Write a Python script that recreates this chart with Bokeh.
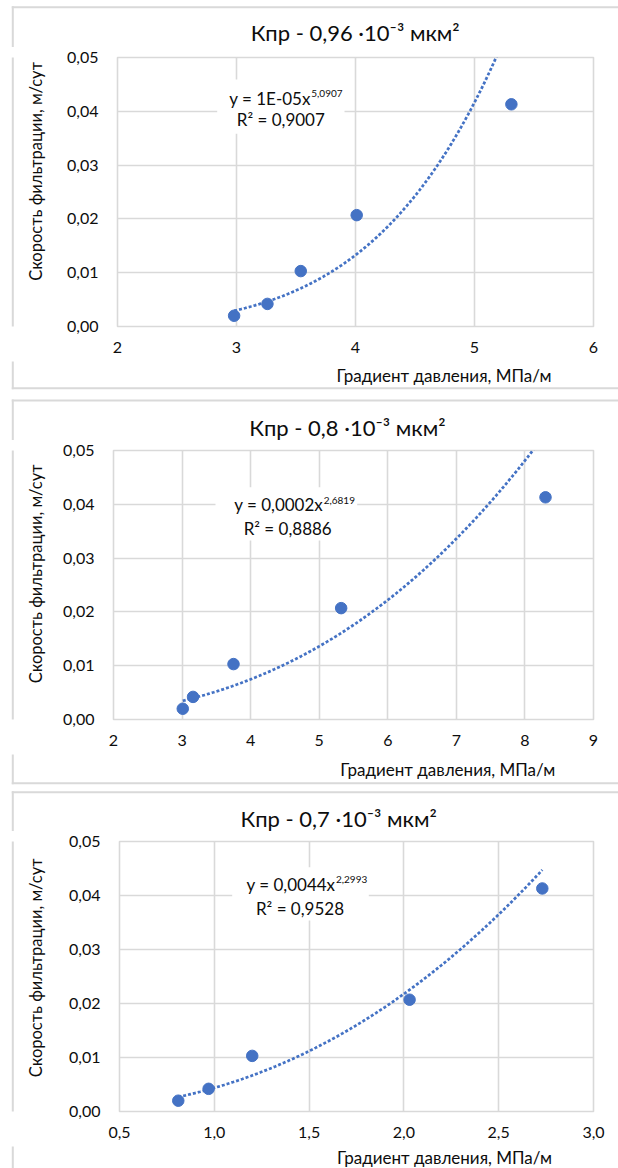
import numpy as np
from bokeh.plotting import figure
from bokeh.layouts import column, row
from bokeh.models import Range1d, FixedTicker, CustomJSTickFormatter, Label, BoxAnnotation
from bokeh.embed import file_html
from bokeh.resources import INLINE

# ---------------- data ----------------
velocity = [0.0020, 0.0042, 0.0103, 0.0207, 0.0413]          # м/сут
grad_096 = [2.98, 3.26, 3.54, 4.01, 5.31]                    # МПа/м
grad_080 = [3.01, 3.16, 3.75, 5.32, 8.30]
grad_070 = [0.81, 0.97, 1.20, 2.03, 2.73]

titles = ["Кпр - 0,96 ·10⁻³ мкм²", "Кпр - 0,8 ·10⁻³ мкм²", "Кпр - 0,7 ·10⁻³ мкм²"]
eq_main = ["y = 1E-05x", "y = 0,0002x", "y = 0,0044x"]
eq_power = ["5,0907", "2,6819", "2,2993"]
eq_r2 = ["R² = 0,9007", "R² = 0,8886", "R² = 0,9528"]
y_titles = ["Скорость фильтрации, м/сут", "Скорость фильтрации, м/сут",
            "Скорость фильтрации,  м/сут"]
x_title = "Градиент давления, МПа/м"

y_ticks = [0.0, 0.01, 0.02, 0.03, 0.04, 0.05]
x_ticks_096 = [2, 3, 4, 5, 6]
x_ticks_080 = [2, 3, 4, 5, 6, 7, 8, 9]
x_ticks_070 = [0.5, 1.0, 1.5, 2.0, 2.5, 3.0]

# ---------------- style / layout (page pixels, text anchored at its vertical middle) ----------------
FONT = "Lato"
BLUE = "#4472C4"
GRID = "#d9d9d9"
TEXT = "#0d0d0d"
W = 618
LEFT_W = 58          # strip holding the vertical axis title
CHART_W = W - LEFT_W

panels = [
    dict(x=grad_096, ticks=x_ticks_096, digits=0, top=0, top_h=47, bot_h=33, mbl=59, fw=476, fh=269,
         title=(354.7, 32.2), ytitle=(35.5, 180.0), xtitle=(443.5, 375.0),
         box=(216.7, 344.0, 79.0, 133.3), join=(310.3, 97.5), sup_y=93.0, r2=(280.3, 119.3),
         border=(6.7, 387.7)),
    dict(x=grad_080, ticks=x_ticks_080, digits=0, top=394, top_h=46, bot_h=33, mbl=55, fw=480, fh=269,
         title=(346.9, 426.7), ytitle=(35.5, 584.0), xtitle=(447.3, 768.8),
         box=(215.0, 356.7, 486.7, 540.0), join=(322.7, 504.2), sup_y=499.7, r2=(287.2, 527.5),
         border=(400.0, 782.7)),
    dict(x=grad_070, ticks=x_ticks_070, digits=1, top=787, top_h=44, bot_h=22, mbl=61, fw=474, fh=270,
         title=(338.2, 818.4), ytitle=(35.5, 976.0), xtitle=(444.0, 1157.0),
         box=(231.7, 368.3, 866.7, 920.0), join=(335.0, 883.8), sup_y=879.3, r2=(299.5, 907.8),
         border=(791.7, None)),
]
CH_TOP, CH_BOT = 10, 35


def strip(x0, y0, w, h):
    """Plain figure whose data coordinates are page pixels (y downwards)."""
    s = figure(width=w, height=h, x_range=Range1d(x0, x0 + w), y_range=Range1d(y0 + h, y0),
               output_backend="svg", toolbar_location=None, x_axis_type=None, y_axis_type=None,
               min_border=0, min_border_left=0, min_border_right=0,
               min_border_top=0, min_border_bottom=0,
               background_fill_color="white", border_fill_color="white")
    s.outline_line_color = None
    return s


def add_border(s, cfg):
    t, b = cfg["border"]
    bb = b if b is not None else 1300
    s.add_layout(BoxAnnotation(left=11.3, right=13.3, top=t - 1, bottom=bb + 1,
                               fill_color=GRID, fill_alpha=1, line_color=None))
    s.add_layout(BoxAnnotation(left=11.3, right=W + 10, top=t - 1, bottom=t + 1,
                               fill_color=GRID, fill_alpha=1, line_color=None))
    if b is not None:
        s.add_layout(BoxAnnotation(left=11.3, right=W + 10, top=b - 1, bottom=b + 1,
                                   fill_color=GRID, fill_alpha=1, line_color=None))


def text(s, x, y, txt, size, align="center", angle=0.0, **kw):
    s.add_layout(Label(x=x, y=y, text=txt, text_align=align, text_baseline="middle",
                       angle=angle, text_font=FONT, text_font_size=size, text_color=TEXT, **kw))


def make_panel(i, cfg):
    top = cfg["top"]
    ch_y0 = top + cfg["top_h"]
    ch_h = CH_TOP + cfg["fh"] + CH_BOT
    bot_y0 = ch_y0 + ch_h

    # --- title strip
    ts = strip(0, top, W, cfg["top_h"])
    add_border(ts, cfg)
    text(ts, *cfg["title"], titles[i], "22px")

    # --- left strip with vertical axis title
    ls = strip(0, ch_y0, LEFT_W, ch_h)
    add_border(ls, cfg)
    text(ls, *cfg["ytitle"], y_titles[i], "16.5px", angle=np.pi / 2)

    # --- the chart itself
    fl = LEFT_W + cfg["mbl"]
    fb = ch_y0 + CH_TOP + cfg["fh"]

    def sx(px):
        return px - fl

    def sy(py):
        return fb - py

    xt = cfg["ticks"]
    p = figure(width=CHART_W, height=ch_h, output_backend="svg", toolbar_location=None,
               x_range=Range1d(xt[0], xt[-1]), y_range=Range1d(y_ticks[0], y_ticks[-1]),
               min_border_left=cfg["mbl"], min_border_top=CH_TOP,
               min_border_right=CHART_W - cfg["mbl"] - cfg["fw"], min_border_bottom=CH_BOT,
               background_fill_color="white", border_fill_color="white")
    p.outline_line_color = GRID
    p.outline_line_width = 1.6
    for ax in (p.xaxis[0], p.yaxis[0]):
        ax.axis_line_color = None
        ax.major_tick_line_color = None
        ax.minor_tick_line_color = None
        ax.major_tick_out = 0
        ax.major_tick_in = 0
        ax.major_label_text_font = FONT
        ax.major_label_text_font_size = "16px"
        ax.major_label_text_color = TEXT
    p.xaxis.ticker = FixedTicker(ticks=xt)
    p.yaxis.ticker = FixedTicker(ticks=y_ticks)
    p.xaxis.formatter = CustomJSTickFormatter(
        code="return tick.toFixed(%d).replace('.', ',');" % cfg["digits"])
    p.yaxis.formatter = CustomJSTickFormatter(code="return tick.toFixed(2).replace('.', ',');")
    p.xaxis.major_label_standoff = 15
    p.yaxis.major_label_standoff = 19
    p.grid.grid_line_color = GRID
    p.grid.grid_line_width = 1.6

    # power trendline fitted to the data (least squares in log-log, as the spreadsheet does)
    xs = np.array(cfg["x"])
    ys = np.array(velocity)
    b, lna = np.polyfit(np.log(xs), np.log(ys), 1)
    xf = np.linspace(xs.min(), xs.max(), 200)
    p.line(xf, np.exp(lna) * xf ** b, line_color=BLUE, line_width=2.75, line_dash="3 2")
    p.scatter(cfg["x"], velocity, size=11.5, fill_color=BLUE, line_color=BLUE)

    # equation with white box
    l, r, t, bt_ = cfg["box"]
    p.add_layout(BoxAnnotation(left=sx(l), right=sx(r), top=sy(t), bottom=sy(bt_),
                               left_units="screen", right_units="screen",
                               top_units="screen", bottom_units="screen",
                               fill_color="white", fill_alpha=1, line_color=None))
    jx, jy = cfg["join"]
    text(p, sx(jx), sy(jy), eq_main[i], "17px", align="right", x_units="screen", y_units="screen")
    text(p, sx(jx) + 0.5, sy(cfg["sup_y"]), eq_power[i], "10px", align="left",
         x_units="screen", y_units="screen")
    rx, ry = cfg["r2"]
    text(p, sx(rx), sy(ry), eq_r2[i], "17px", x_units="screen", y_units="screen")

    # --- bottom strip with horizontal axis title
    bs = strip(0, bot_y0, W, cfg["bot_h"])
    add_border(bs, cfg)
    text(bs, *cfg["xtitle"], x_title, "17px")

    return [ts, row(ls, p, spacing=0), bs]


items = []
for i, cfg in enumerate(panels):
    items += make_panel(i, cfg)
layout = column(*items, spacing=0)
open("out.html", "w").write(file_html(layout, INLINE))
